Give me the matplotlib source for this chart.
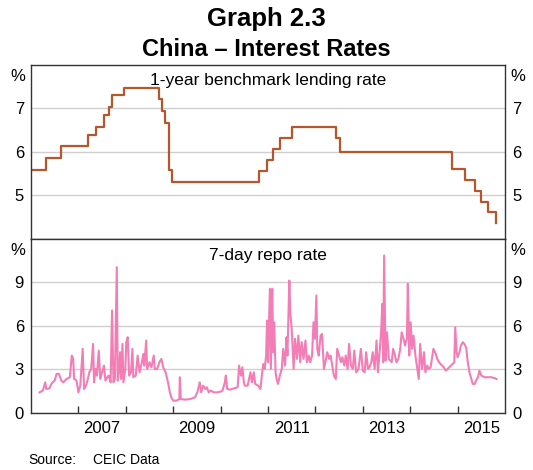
import matplotlib
matplotlib.use("Agg")
import matplotlib.pyplot as plt
import numpy as np

plt.rcParams['font.family'] = ['Liberation Sans', 'DejaVu Sans']

# 1-year benchmark lending rate (step changes, decimal year)
lend_dates = [2006.00, 2006.32, 2006.63, 2007.21, 2007.38, 2007.55, 2007.64,
              2007.71, 2007.97, 2008.71, 2008.77, 2008.83, 2008.91, 2008.98,
              2010.80, 2010.98, 2011.11, 2011.26, 2011.51, 2012.44, 2012.51,
              2014.89, 2015.16, 2015.36, 2015.49, 2015.65, 2015.81]
lend_rate = [5.58, 5.85, 6.12, 6.39, 6.57, 6.84, 7.02,
             7.29, 7.47, 7.20, 6.93, 6.66, 5.58, 5.31,
             5.56, 5.81, 6.06, 6.31, 6.56, 6.31, 6.00,
             5.60, 5.35, 5.10, 4.85, 4.60, 4.35]

# 7-day repo rate
repo_dates = [
    2006.18, 2006.25, 2006.30, 2006.32, 2006.39, 2006.43, 2006.46, 2006.50,
    2006.54, 2006.59, 2006.64, 2006.68, 2006.75, 2006.82, 2006.86, 2006.89,
    2006.91, 2006.96, 2007.00, 2007.04, 2007.09, 2007.12, 2007.16, 2007.20,
    2007.23, 2007.27, 2007.31, 2007.33, 2007.36, 2007.39, 2007.43, 2007.46,
    2007.50, 2007.54, 2007.57, 2007.61, 2007.64, 2007.68, 2007.71, 2007.74,
    2007.77, 2007.81, 2007.83, 2007.86, 2007.88, 2007.90, 2007.93, 2007.95,
    2007.99, 2008.01, 2008.04, 2008.07, 2008.11, 2008.14, 2008.16, 2008.21,
    2008.25, 2008.29, 2008.34, 2008.37, 2008.39, 2008.43, 2008.45, 2008.50,
    2008.54, 2008.59, 2008.61, 2008.66, 2008.71, 2008.75, 2008.79, 2008.84,
    2008.89, 2008.93, 2008.96, 2009.00, 2009.07, 2009.13, 2009.14, 2009.16,
    2009.25, 2009.36, 2009.46, 2009.51, 2009.56, 2009.59, 2009.63, 2009.68,
    2009.71, 2009.75, 2009.79, 2009.86, 2009.93, 2010.00, 2010.04, 2010.09,
    2010.11, 2010.14, 2010.20, 2010.29, 2010.36, 2010.39, 2010.43, 2010.46,
    2010.49, 2010.51, 2010.57, 2010.63, 2010.66, 2010.70, 2010.73, 2010.79,
    2010.84, 2010.87, 2010.90, 2010.93, 2010.96, 2010.98, 2011.00, 2011.02,
    2011.04, 2011.06, 2011.09, 2011.11, 2011.13, 2011.16, 2011.18, 2011.21,
    2011.25, 2011.29, 2011.32, 2011.36, 2011.39, 2011.41, 2011.45, 2011.47,
    2011.50, 2011.54, 2011.57, 2011.61, 2011.64, 2011.68, 2011.71, 2011.75,
    2011.79, 2011.82, 2011.86, 2011.89, 2011.93, 2011.96, 2011.99, 2012.02,
    2012.04, 2012.07, 2012.11, 2012.14, 2012.18, 2012.21, 2012.25, 2012.29,
    2012.32, 2012.39, 2012.43, 2012.46, 2012.50, 2012.54, 2012.57, 2012.61,
    2012.64, 2012.68, 2012.71, 2012.75, 2012.79, 2012.82, 2012.86, 2012.91,
    2012.96, 2013.00, 2013.04, 2013.07, 2013.11, 2013.14, 2013.18, 2013.21,
    2013.25, 2013.29, 2013.32, 2013.36, 2013.39, 2013.41, 2013.43, 2013.45,
    2013.48, 2013.51, 2013.55, 2013.61, 2013.64, 2013.68, 2013.71, 2013.75,
    2013.79, 2013.82, 2013.86, 2013.89, 2013.93, 2013.95, 2013.98, 2014.01,
    2014.04, 2014.07, 2014.11, 2014.14, 2014.18, 2014.21, 2014.25, 2014.29,
    2014.32, 2014.36, 2014.39, 2014.43, 2014.49, 2014.54, 2014.57, 2014.61,
    2014.64, 2014.71, 2014.75, 2014.79, 2014.86, 2014.93, 2014.95, 2014.98,
    2015.00, 2015.04, 2015.07, 2015.11, 2015.14, 2015.18, 2015.21, 2015.25,
    2015.29, 2015.32, 2015.36, 2015.39, 2015.43, 2015.46, 2015.50, 2015.57,
    2015.64, 2015.71, 2015.79, 2015.82]
repo_rate = [
    1.42, 1.54, 2.11, 1.65, 1.70, 2.00, 2.11, 2.23,
    2.69, 2.69, 2.23, 2.11, 2.34, 2.46, 3.95, 3.72,
    2.34, 2.23, 1.42, 1.88, 4.41, 1.65, 1.88, 2.34,
    2.80, 3.03, 4.75, 2.11, 3.03, 2.57, 4.29, 2.34,
    2.80, 3.26, 2.23, 2.46, 2.57, 2.11, 7.05, 2.11,
    2.34, 10.03, 2.23, 3.03, 4.18, 2.34, 4.75, 2.11,
    3.03, 4.87, 5.21, 2.57, 2.80, 4.41, 2.46, 2.57,
    3.95, 2.80, 3.49, 4.06, 3.26, 4.98, 3.03, 3.49,
    3.14, 3.95, 3.03, 3.03, 3.49, 3.72, 3.14, 2.80,
    2.11, 1.42, 1.08, 0.85, 0.85, 0.96, 2.46, 0.96,
    0.92, 0.96, 1.08, 1.42, 2.11, 1.42, 1.88, 1.65,
    1.77, 1.42, 1.54, 1.42, 1.42, 1.47, 1.54, 2.11,
    2.57, 1.65, 1.61, 1.70, 1.77, 3.26, 2.57, 3.14,
    2.11, 1.88, 1.88, 2.80, 2.11, 2.80, 2.00, 1.88,
    1.65, 2.57, 3.37, 3.03, 3.95, 6.36, 3.49, 5.90,
    8.54, 3.03, 8.54, 4.18, 6.24, 2.80, 2.34, 2.00,
    2.57, 3.03, 4.41, 3.26, 5.21, 3.95, 9.11, 6.93,
    5.78, 3.03, 5.10, 3.72, 5.32, 3.49, 4.87, 3.72,
    4.98, 3.49, 3.95, 3.49, 3.95, 6.24, 5.10, 8.08,
    4.41, 3.95, 5.32, 5.44, 3.03, 3.49, 4.18, 3.72,
    3.95, 2.57, 2.34, 4.41, 3.95, 3.49, 3.83, 3.26,
    3.95, 3.03, 4.75, 3.26, 3.03, 4.29, 2.80, 3.03,
    4.41, 2.91, 2.80, 4.18, 3.03, 3.14, 3.49, 4.18,
    3.03, 4.98, 2.80, 4.41, 5.78, 7.51, 3.49, 10.83,
    3.60, 5.55, 3.72, 3.49, 4.41, 3.95, 3.49, 3.72,
    4.41, 5.55, 5.10, 4.64, 5.10, 8.88, 3.95, 6.24,
    4.41, 5.32, 3.95, 3.26, 2.34, 4.75, 3.03, 4.18,
    2.80, 3.26, 3.03, 3.14, 4.41, 4.06, 3.72, 3.49,
    3.37, 3.14, 2.91, 3.03, 3.26, 3.49, 5.90, 4.18,
    3.83, 4.18, 4.64, 4.87, 4.75, 4.52, 3.60, 2.80,
    2.34, 2.00, 2.00, 2.23, 2.46, 2.91, 2.57, 2.46,
    2.46, 2.46, 2.39, 2.34]

year_ticks = list(range(2007, 2016))
year_labels = ['2007', '2009', '2011', '2013', '2015']

brown = '#B5562C'
pink = '#F37DB5'
grid_c = '#CFCFCF'

fig = plt.figure(figsize=(5.33, 4.70), dpi=100)
ax1 = fig.add_axes([31/533, 1 - 238.5/470, 474/533, 174/470])
ax2 = fig.add_axes([31/533, 1 - 413/470, 474/533, 174.5/470])

fig.text(0.5, 1 - 19/470, 'Graph 2.3', ha='center', va='center',
         fontsize=18.5, fontweight='bold')
fig.text(0.5, 1 - 49/470, 'China \u2013 Interest Rates', ha='center', va='center',
         fontsize=17, fontweight='bold')

ax1.step(lend_dates, lend_rate, where='post', color=brown, lw=1.6)
ax2.plot(repo_dates, repo_rate, color=pink, lw=1.5)

ax1.set_ylim(4, 8)
ax1.set_yticks([5, 6, 7])
ax2.set_ylim(0, 12)
ax2.set_yticks([0, 3, 6, 9])

for ax in (ax1, ax2):
    ax.set_xlim(2006, 2016)
    ax.grid(axis='y', color=grid_c, lw=1)
    ax.set_axisbelow(True)
    ax.tick_params(axis='y', length=0, labelsize=12, pad=5,
                   labelleft=True, labelright=True, left=False, right=False)
    for s in ax.spines.values():
        s.set_color('#333333')
        s.set_linewidth(1)
    ax.text(-0.012, 0.975, '%', transform=ax.transAxes, ha='right', va='top', fontsize=12)
    ax.text(1.012, 0.975, '%', transform=ax.transAxes, ha='left', va='top', fontsize=12)

ax1.set_xticks([])
ax1.text(0.5, 0.95, '1-year benchmark lending rate', transform=ax1.transAxes,
         ha='center', va='top', fontsize=12.5)
ax2.text(0.5, 0.945, '7-day repo rate', transform=ax2.transAxes,
         ha='center', va='top', fontsize=12.5)

ax2.set_xticks(year_ticks)
ax2.set_xticklabels([])
ax2.tick_params(axis='x', direction='in', length=5, width=1, color='#333333')
ax2.set_xticks([y + 0.5 for y in range(2007, 2016, 2)], minor=True)
ax2.set_xticklabels(year_labels, minor=True)
ax2.tick_params(axis='x', which='minor', length=0, labelsize=12, pad=6)

fig.text(28/533, 1 - 460/470, 'Source:', ha='left', va='center', fontsize=10)
fig.text(93/533, 1 - 460/470, 'CEIC Data', ha='left', va='center', fontsize=10)

fig.savefig('out.png', dpi=100)
